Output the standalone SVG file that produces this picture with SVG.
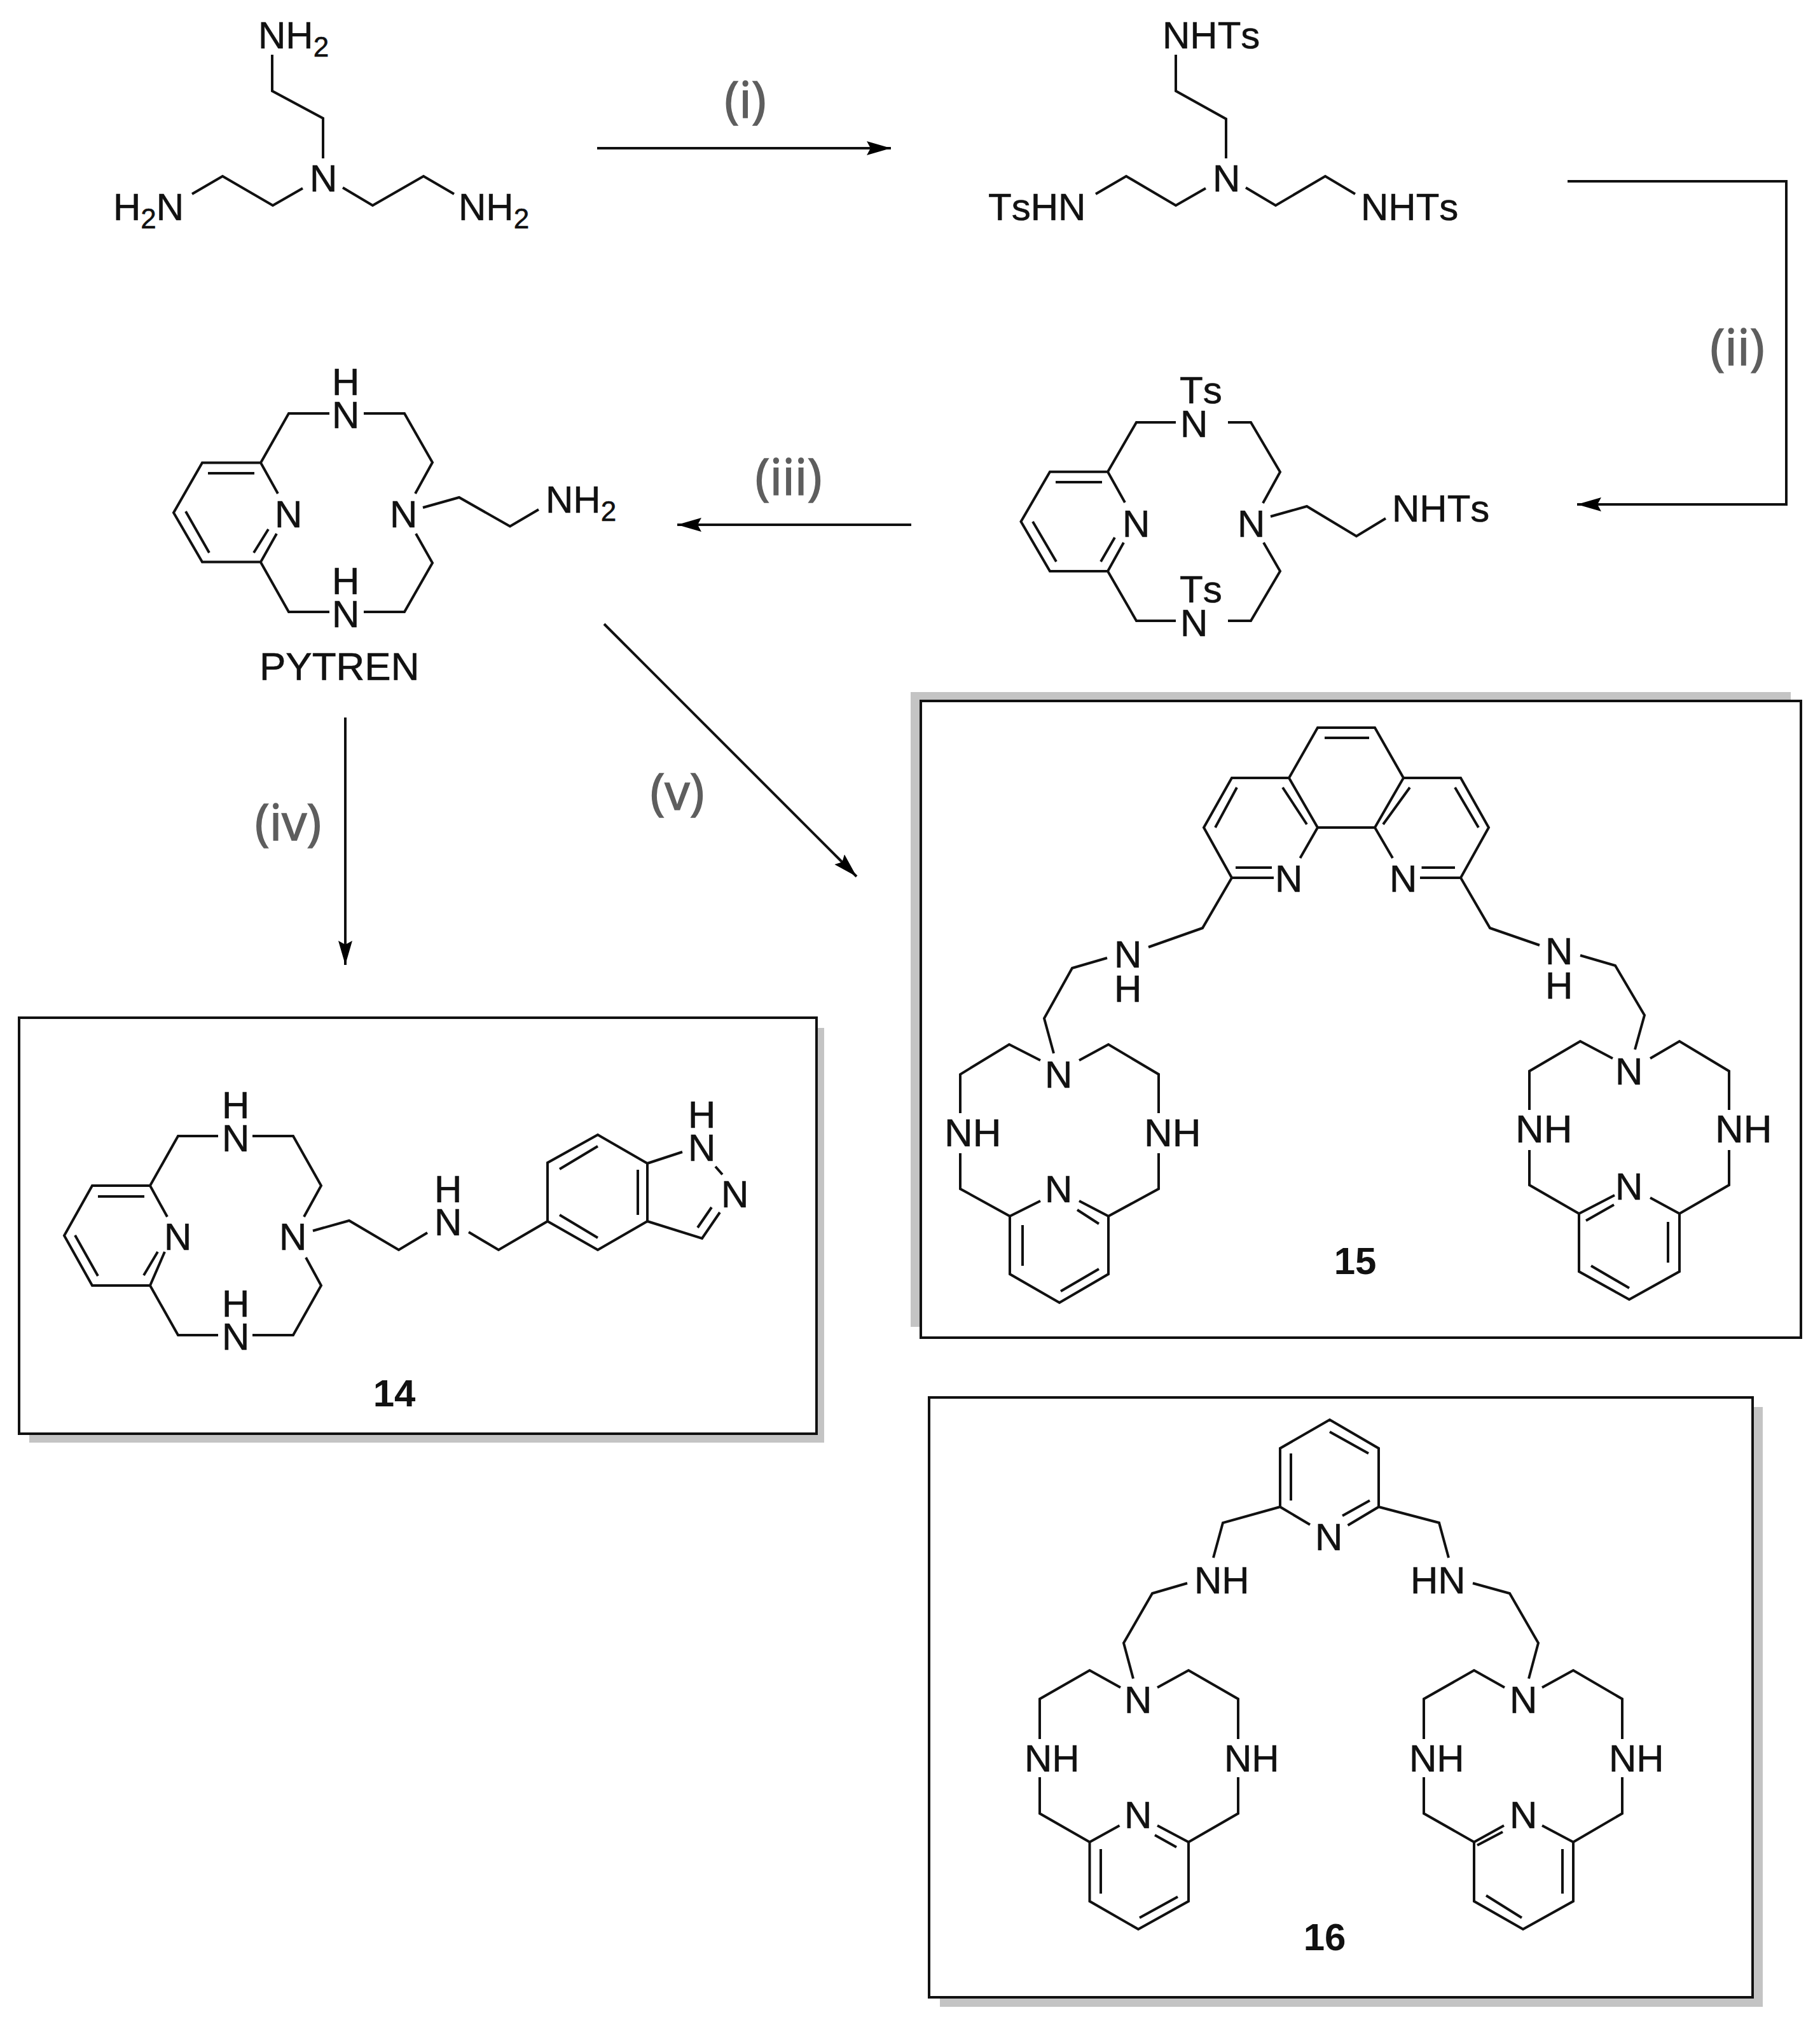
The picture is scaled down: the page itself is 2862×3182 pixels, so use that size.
<svg xmlns="http://www.w3.org/2000/svg" width="2862" height="3182" viewBox="0 0 2862 3182">
<style>
.b{fill:none;stroke:#111;stroke-width:4;stroke-linejoin:miter;stroke-linecap:butt}
.t{font-family:"Liberation Sans",Arial,sans-serif;font-size:60px;fill:#111;stroke:#111;stroke-width:.6px;font-kerning:none}
.w{font-size:62px}
.s{font-size:44px}
.n{font-family:"Liberation Sans",Arial,sans-serif;font-size:60px;font-weight:bold;fill:#111;text-anchor:middle}
.l{font-family:"Open Sans",sans-serif;font-size:78px;fill:#5e5e5e;stroke:#5e5e5e;stroke-width:1.6px;text-anchor:middle}
.box{fill:#fff;stroke:#111;stroke-width:4}
.sh{fill:#c4c4c4}
.a{fill:none;stroke:#111;stroke-width:4}
</style>
<defs>
<marker id="ah" markerUnits="userSpaceOnUse" markerWidth="44" markerHeight="28" refX="38" refY="12" orient="auto"><path d="M0 1L38 12L0 23L6 12Z" fill="#000"/></marker>
</defs>
<rect width="2862" height="3182" fill="#fff"/>
<g id="connectors">
<path class="a" marker-end="url(#ah)" d="M939 233H1401"/>
<path class="a" marker-end="url(#ah)" d="M2465 285H2809V793H2480"/>
<path class="a" marker-end="url(#ah)" d="M1433 825H1065"/>
<path class="a" marker-end="url(#ah)" d="M543 1128V1517"/>
<path class="a" marker-end="url(#ah)" d="M950 981L1347 1378"/>
</g>
<g id="labels">
<text class="l" x="1172" y="185">(i)</text>
<text class="l" x="2732" y="574">(ii)</text>
<text class="l" x="1240" y="778">(iii)</text>
<text class="l" x="453" y="1321">(iv)</text>
<text class="l" x="1065" y="1273">(v)</text>
</g>
<g id="tren">
<path class="b" d="M428 86V143L508 186V249M302 305L350 277L429 323L476 296M539 295L586 323L666 277L714 305"/>
<text class="t" x="406" y="76">NH<tspan class="s" dy="13">2</tspan></text>
<text class="t" x="178" y="346">H<tspan class="s" dy="13">2</tspan><tspan dy="-13">N</tspan></text>
<text class="t" x="487" y="301">N</text>
<text class="t" x="721" y="346">NH<tspan class="s" dy="13">2</tspan></text>
</g>
<g id="tren-ts">
<path class="b" d="M1849 86V143L1928 187V249M1723 305L1771 277L1849 323L1896 296M1959 295L2006 323L2084 277L2131 305"/>
<text class="t" x="1828" y="76">NHTs</text>
<text class="t" x="1554" y="346">TsHN</text>
<text class="t" x="2140" y="346">NHTs</text>
<text class="t" x="1907" y="301">N</text>
</g>
<g id="pytren-ts">
<path class="b" d="M1769 790L1742 741.700H1651L1605.500 820L1651 898H1742L1767 853M1660 758H1733M1624 820L1661 883M1753 845L1731 883M1742 741.700L1787 664H1849M1931 664H1967L2013 742L1986 791M1987 853L2013 898L1967 976H1931M1849 976H1787L1742 898M1998 812L2055 796L2133 843L2179 815"/>
<text class="t" x="1855" y="634">Ts<tspan x="1856" dy="53">N</tspan></text>
<text class="t" x="1855" y="947">Ts<tspan x="1856" dy="53">N</tspan></text>
<text class="t" x="1765" y="844">N</text>
<text class="t" x="1946" y="844">N</text>
<text class="t" x="2189" y="820">NHTs</text>
</g>
<g id="pytren">
<path class="b" d="M437 776L410 727.500H318L273 806L318 883.600H410L435 839M327 744H400M292 804L329 869M422 832L399 869M410 727.500L454 650H518M572 650H636L680 727L653 776M654 839L680 885L636 962H572M518 962H454L410 884M665 798L722 782L802 827.500L847 801"/>
<text class="t" x="522" y="621">H<tspan x="522" dy="52">N</tspan></text>
<text class="t" x="522" y="934">H<tspan x="522" dy="52">N</tspan></text>
<text class="t" x="432" y="829">N</text>
<text class="t" x="613" y="829">N</text>
<text class="t" x="858" y="806">NH<tspan class="s" dy="13">2</tspan></text>
<text class="t" x="408" y="1069" style="font-size:62px">PYTREN</text>
</g>
<g id="compound-14">
<rect class="sh" x="46" y="1616" width="1250" height="652"/>
<rect class="box" x="30" y="1600" width="1254" height="654"/>
<path class="b" d="M263 1913L236 1864H145L101 1942.500L145 2021H236L259 1968M154 1881H227M118 1942L154 2006M248 1968L226 2005M236 1864L280 1786H343M397 1786H461L505 1864L478 1913M481 1977L505 2021L461 2099H397M343 2099H280L236 2021M492 1935L549 1919L627 1965L672 1938M737 1937L784 1965L861 1920V1828L940 1784L1018 1829V1920L940 1965L861 1920M880 1838L940 1802M1003 1839V1910M880 1910L940 1946M1018 1829L1073 1811M1125 1834L1136 1846.500M1132 1906L1104 1947L1018 1920M1119 1898L1097 1930"/>
<text class="t" x="349" y="1758">H<tspan x="349" dy="52">N</tspan></text>
<text class="t" x="349" y="2070">H<tspan x="349" dy="52">N</tspan></text>
<text class="t" x="258" y="1965">N</text>
<text class="t" x="439" y="1965">N</text>
<text class="t" x="683" y="1890">H<tspan x="683" dy="52">N</tspan></text>
<text class="t" x="1082" y="1773">H<tspan x="1082" dy="52">N</tspan></text>
<text class="t" x="1134" y="1898">N</text>
<text class="n" x="620" y="2211">14</text>
</g>
<g id="compound-15">
<rect class="sh" x="1432" y="1088" width="1384" height="998"/>
<rect class="box" x="1448" y="1102" width="1384" height="1001"/>
<path class="b" d="M2072 1144H2162L2207 1223L2162 1301H2072L2027 1223ZM2027 1223H1937L1893 1301L1937 1380H2003M2044.500 1349L2072 1301M2207 1223H2297L2341 1301L2297 1380H2233M2190 1349L2162 1301M2083 1160H2153M1945 1238L1911 1301M2017 1238L2055 1296M1943 1364H2000M2217 1238L2175 1296M2288 1238L2325 1301M2235.500 1364H2288M1937 1380L1891 1459L1806 1489M1741 1506L1686 1522L1642 1601L1657 1656M1636 1667L1587 1642L1510 1689V1750M1697 1667L1743 1642L1822 1689V1750M1510 1813V1869L1588 1912L1636 1888M1822 1813V1869L1743 1912L1697 1888M1694 1902L1728 1924M1588 1912V2003L1666 2048L1743 2003V1912M1608 1926V1990M1668 2030L1728 1995M2297 1380L2343 1459L2421 1486M2485 1502L2540 1518L2586 1596L2571 1650M2536 1664L2485 1637L2405 1684V1745M2595 1664L2641 1637L2719 1684V1745M2405 1808V1863L2483 1908L2539 1879M2719 1808V1863L2641 1908L2595 1883M2483 1908V1999L2562 2043L2641 1999V1908M2494 1919L2538 1894M2623 1921V1985M2502 1990L2562 2025"/>
<text class="t" x="2005" y="1402">N</text>
<text class="t" x="2185" y="1402">N</text>
<text class="t" x="1752" y="1521">N<tspan x="1752" dy="54">H</tspan></text>
<text class="t" x="1643" y="1710">N</text>
<text class="t w" x="1485" y="1802">NH</text>
<text class="t w" x="1799" y="1802">NH</text>
<text class="t" x="1643" y="1890">N</text>
<text class="t" x="2430" y="1516">N<tspan x="2430" dy="54">H</tspan></text>
<text class="t" x="2540" y="1705">N</text>
<text class="t w" x="2383" y="1796">NH</text>
<text class="t w" x="2697" y="1796">NH</text>
<text class="t" x="2540" y="1886">N</text>
<text class="n" x="2131" y="2003">15</text>
</g>
<g id="compound-16">
<rect class="sh" x="1478" y="2212" width="1294" height="943"/>
<rect class="box" x="1461" y="2197" width="1295" height="943"/>
<path class="b" d="M2060 2397L2013 2369V2277L2091 2232L2168 2277V2369L2119.500 2398M2091 2251L2152 2285M2030 2285V2359M2154 2359L2111 2383M2013 2369L1923 2394L1908 2449M1867 2489L1812 2505L1767 2583L1782 2639M1762 2653L1713.500 2626L1635 2671V2734M1820 2653L1869 2626L1947 2671V2734M1635 2794V2851L1713.500 2896L1760.500 2870M1947 2794V2851L1869 2896L1820 2870M1713.500 2896V2989L1790 3033L1869 2989V2896M1731 2907V2977M1792 3015L1852 2982M1816 2885L1850 2904M2168 2369L2263 2394L2278 2449M2316 2489L2374 2505L2419 2583L2404 2639M2366 2653L2318 2626L2239 2671V2734M2425 2653L2474 2626L2551 2671V2734M2239 2794V2851L2318 2896L2365 2870M2551 2794V2851L2474 2896L2425 2870M2318 2896V2989L2395 3033L2474 2989V2896M2323 2901L2363 2880M2457 2907V2977M2337 2980L2393 3015"/>
<text class="t" x="2068" y="2437">N</text>
<text class="t" x="1878" y="2505">NH</text>
<text class="t" x="2218" y="2505">HN</text>
<text class="t" x="1768" y="2693">N</text>
<text class="t" x="1611" y="2785">NH</text>
<text class="t" x="1925" y="2785">NH</text>
<text class="t" x="1768" y="2874">N</text>
<text class="t" x="2374" y="2693">N</text>
<text class="t" x="2216" y="2785">NH</text>
<text class="t" x="2530" y="2785">NH</text>
<text class="t" x="2374" y="2874">N</text>
<text class="n" x="2083" y="3066">16</text>
</g>
</svg>
